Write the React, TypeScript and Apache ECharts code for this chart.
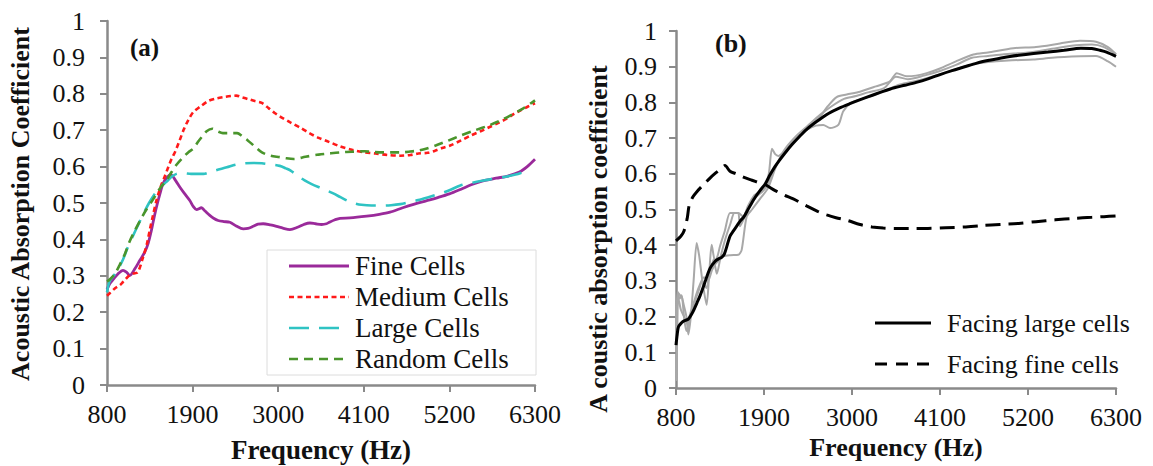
import React, { useEffect, useRef } from "react";
import * as echarts from "echarts";

type Pt = [number, number];

// ---------- Panel (a) ----------
const fineCells: Pt[] = [
  [800, 0.262], [835, 0.278], [880, 0.29], [940, 0.305], [1006, 0.315], [1050, 0.31], [1092, 0.301],
  [1160, 0.32], [1221, 0.342], [1285, 0.365], [1330, 0.39], [1371, 0.425], [1400, 0.455], [1436, 0.489],
  [1480, 0.525], [1520, 0.553], [1570, 0.57], [1620, 0.578], [1680, 0.562], [1735, 0.544], [1800, 0.525],
  [1864, 0.507], [1910, 0.49], [1950, 0.482], [2014, 0.487], [2060, 0.478], [2121, 0.466], [2170, 0.458],
  [2228, 0.452], [2300, 0.449], [2379, 0.447], [2460, 0.437], [2550, 0.429], [2610, 0.43], [2678, 0.436],
  [2740, 0.442], [2807, 0.443], [2900, 0.44], [2979, 0.436], [3060, 0.431], [3150, 0.427], [3257, 0.434],
  [3330, 0.441], [3408, 0.445], [3480, 0.443], [3558, 0.441], [3620, 0.443], [3665, 0.448], [3730, 0.454],
  [3794, 0.458], [3922, 0.459], [4137, 0.464], [4300, 0.469], [4437, 0.475], [4600, 0.487], [4750, 0.497],
  [4900, 0.506], [5050, 0.515], [5200, 0.525], [5350, 0.538], [5480, 0.55], [5620, 0.56], [5800, 0.568],
  [5950, 0.574], [6100, 0.585], [6200, 0.6], [6300, 0.62],
];

const mediumCells: Pt[] = [
  [800, 0.245], [835, 0.252], [900, 0.265], [969, 0.275], [1006, 0.283], [1082, 0.3], [1135, 0.306],
  [1196, 0.31], [1263, 0.351], [1310, 0.385], [1349, 0.425], [1390, 0.465], [1436, 0.507], [1490, 0.545],
  [1542, 0.573], [1590, 0.6], [1628, 0.62], [1680, 0.643], [1730, 0.67], [1789, 0.703], [1850, 0.73],
  [1910, 0.75], [2000, 0.765], [2100, 0.78], [2200, 0.787], [2300, 0.791], [2400, 0.794], [2460, 0.795],
  [2540, 0.79], [2620, 0.785], [2700, 0.78], [2790, 0.775], [2880, 0.76], [2950, 0.748], [3020, 0.738],
  [3150, 0.722], [3290, 0.706], [3400, 0.692], [3520, 0.679], [3650, 0.668], [3790, 0.656], [3950, 0.646],
  [4110, 0.639], [4250, 0.636], [4400, 0.632], [4570, 0.63], [4700, 0.632], [4800, 0.636], [4920, 0.638],
  [5020, 0.644], [5120, 0.652], [5210, 0.658], [5350, 0.672], [5480, 0.686], [5600, 0.697], [5710, 0.708],
  [5830, 0.72], [5930, 0.731], [6030, 0.745], [6120, 0.755], [6210, 0.765], [6300, 0.774],
];

const largeCells: Pt[] = [
  [800, 0.255], [835, 0.285], [920, 0.31], [1006, 0.345], [1070, 0.38], [1135, 0.41], [1200, 0.44],
  [1263, 0.468], [1340, 0.5], [1413, 0.525], [1490, 0.545], [1564, 0.558], [1630, 0.572], [1693, 0.58],
  [1778, 0.582], [1880, 0.58], [1970, 0.58], [2040, 0.58], [2110, 0.584], [2200, 0.59], [2340, 0.598],
  [2450, 0.605], [2560, 0.609], [2680, 0.61], [2790, 0.609], [2900, 0.606], [3020, 0.602], [3100, 0.595],
  [3160, 0.589], [3250, 0.575], [3340, 0.562], [3430, 0.552], [3560, 0.54], [3700, 0.527], [3800, 0.516],
  [3890, 0.506], [3980, 0.499], [4070, 0.495], [4200, 0.493], [4340, 0.493], [4450, 0.494], [4570, 0.497],
  [4680, 0.502], [4800, 0.508], [4930, 0.516], [5070, 0.525], [5200, 0.535], [5340, 0.548], [5480, 0.555],
  [5620, 0.561], [5750, 0.566], [5890, 0.571], [6050, 0.578], [6210, 0.59],
];

const randomCells: Pt[] = [
  [800, 0.285], [835, 0.29], [900, 0.305], [963, 0.33], [1030, 0.36], [1092, 0.395], [1160, 0.425],
  [1221, 0.45], [1300, 0.48], [1392, 0.51], [1480, 0.54], [1564, 0.562], [1630, 0.585], [1693, 0.605],
  [1789, 0.628], [1850, 0.64], [1912, 0.65], [1970, 0.668], [2017, 0.681], [2080, 0.697], [2153, 0.704],
  [2220, 0.697], [2290, 0.692], [2380, 0.692], [2472, 0.692], [2540, 0.683], [2609, 0.672], [2700, 0.655],
  [2791, 0.639], [2900, 0.63], [3019, 0.626], [3100, 0.623], [3201, 0.621], [3350, 0.627], [3520, 0.633],
  [3650, 0.636], [3793, 0.639], [3950, 0.641], [4112, 0.642], [4230, 0.64], [4340, 0.639], [4450, 0.639],
  [4567, 0.639], [4680, 0.641], [4795, 0.644], [4910, 0.65], [5023, 0.658], [5180, 0.671], [5342, 0.685],
  [5520, 0.699], [5706, 0.713], [5850, 0.726], [5980, 0.74], [6150, 0.76], [6300, 0.782],
];

// ---------- Panel (b) ----------
const facingLarge: Pt[] = [
  [800, 0.12], [815, 0.15], [832, 0.172], [870, 0.183], [901, 0.188], [954, 0.193], [1015, 0.215],
  [1061, 0.238], [1100, 0.258], [1152, 0.29], [1225, 0.335], [1290, 0.355], [1335, 0.362], [1370, 0.366],
  [1404, 0.375], [1475, 0.425], [1518, 0.44], [1600, 0.467], [1650, 0.48], [1700, 0.5], [1725, 0.51],
  [1792, 0.535], [1850, 0.553], [1916, 0.572], [1970, 0.595], [2037, 0.62], [2090, 0.637], [2158, 0.657],
  [2250, 0.682], [2341, 0.704], [2430, 0.724], [2524, 0.741], [2620, 0.756], [2706, 0.769], [2840, 0.784],
  [2981, 0.797], [3120, 0.809], [3255, 0.82], [3390, 0.831], [3529, 0.841], [3660, 0.848], [3804, 0.856],
  [3950, 0.866], [4101, 0.878], [4250, 0.889], [4398, 0.899], [4560, 0.91], [4718, 0.918], [4900, 0.926],
  [5084, 0.932], [5270, 0.937], [5450, 0.941], [5650, 0.946], [5861, 0.952], [5998, 0.951], [6100, 0.946],
  [6181, 0.941], [6300, 0.929],
];

const facingFine: Pt[] = [
  [800, 0.412], [860, 0.425], [900, 0.44], [940, 0.475], [966, 0.513], [1010, 0.535], [1061, 0.55],
  [1141, 0.569], [1225, 0.588], [1300, 0.603], [1360, 0.614], [1412, 0.623], [1475, 0.607], [1550, 0.6],
  [1650, 0.59], [1750, 0.582], [1850, 0.574], [1912, 0.57], [2040, 0.553], [2158, 0.54], [2266, 0.53],
  [2432, 0.51], [2570, 0.495], [2684, 0.485], [2800, 0.477], [2934, 0.47], [3100, 0.458], [3250, 0.451],
  [3391, 0.448], [3560, 0.447], [3712, 0.447], [3950, 0.447], [4169, 0.449], [4400, 0.451], [4627, 0.455],
  [4850, 0.458], [5084, 0.461], [5300, 0.466], [5541, 0.471], [5770, 0.475], [5998, 0.478], [6150, 0.48],
  [6300, 0.482],
];

const sampleA: Pt[] = [
  [800, 0.02], [815, 0.15], [829, 0.266], [850, 0.26], [871, 0.256], [900, 0.23], [930, 0.2], [954, 0.15],
  [985, 0.2], [1020, 0.3], [1058, 0.406], [1090, 0.37], [1130, 0.3], [1183, 0.233], [1215, 0.32],
  [1246, 0.401], [1288, 0.355], [1320, 0.37], [1350, 0.397], [1410, 0.44], [1475, 0.49], [1540, 0.49],
  [1579, 0.49], [1600, 0.453], [1640, 0.47], [1700, 0.5], [1800, 0.535], [1900, 0.555], [1960, 0.6],
  [2000, 0.67], [2040, 0.655], [2080, 0.65], [2150, 0.662], [2300, 0.695], [2450, 0.728], [2600, 0.76],
  [2700, 0.79], [2808, 0.815], [2933, 0.822], [3100, 0.83], [3300, 0.845], [3475, 0.859], [3559, 0.882],
  [3684, 0.873], [3800, 0.875], [3934, 0.882], [4100, 0.895], [4300, 0.915], [4517, 0.934], [4700, 0.94],
  [5017, 0.952], [5300, 0.955], [5600, 0.965], [5850, 0.973], [6050, 0.97], [6200, 0.955], [6300, 0.935],
];

const sampleB: Pt[] = [
  [800, 0.17], [820, 0.27], [845, 0.25], [870, 0.26], [900, 0.2], [930, 0.16], [960, 0.18], [1000, 0.22],
  [1050, 0.26], [1100, 0.29], [1150, 0.31], [1200, 0.3], [1250, 0.33], [1300, 0.35], [1350, 0.36],
  [1391, 0.369], [1480, 0.372], [1579, 0.373], [1621, 0.387], [1683, 0.48], [1750, 0.5], [1850, 0.53],
  [1950, 0.56], [2050, 0.62], [2150, 0.66], [2300, 0.7], [2450, 0.725], [2550, 0.735], [2641, 0.737],
  [2725, 0.728], [2829, 0.737], [2891, 0.775], [3000, 0.8], [3200, 0.815], [3400, 0.832], [3600, 0.85],
  [3800, 0.86], [4000, 0.872], [4200, 0.886], [4400, 0.9], [4600, 0.91], [4808, 0.915], [5000, 0.918],
  [5267, 0.92], [5500, 0.925], [5850, 0.929], [6050, 0.93], [6200, 0.915], [6300, 0.9],
];

const sampleC: Pt[] = [
  [800, 0.2], [830, 0.25], [860, 0.22], [900, 0.2], [940, 0.18], [980, 0.21], [1030, 0.24], [1080, 0.27],
  [1130, 0.3], [1180, 0.28], [1220, 0.32], [1270, 0.36], [1310, 0.32], [1360, 0.37], [1420, 0.42],
  [1480, 0.46], [1530, 0.49], [1580, 0.49], [1640, 0.48], [1700, 0.51], [1780, 0.54], [1850, 0.55],
  [1920, 0.56], [2000, 0.6], [2150, 0.665], [2300, 0.705], [2450, 0.735], [2600, 0.765], [2750, 0.79],
  [2900, 0.81], [3050, 0.818], [3200, 0.828], [3400, 0.84], [3550, 0.872], [3700, 0.865], [3900, 0.875],
  [4100, 0.888], [4300, 0.905], [4500, 0.925], [4700, 0.93], [4900, 0.935], [5200, 0.94], [5500, 0.95],
  [5800, 0.96], [6000, 0.962], [6150, 0.955], [6300, 0.935],
];

const legendA = ["Fine Cells", "Medium Cells", "Large Cells", "Random Cells"];
const legendB = ["Facing large cells", "Facing fine cells"];

const FONT = "Liberation Serif, Times New Roman, serif";
const AXIS_GRAY = "#8a8a8a";
const PURPLE = "#9a2a9a";
const RED = "#ff1a1a";
const CYAN = "#2fc3c3";
const GREEN = "#4a952c";
const GRAY = "#a8a8a8";

function xAxisCfg(gridIndex: number) {
  return {
    gridIndex,
    type: "value",
    min: 800,
    max: 6300,
    interval: 1100,
    axisLine: { lineStyle: { color: AXIS_GRAY, width: 2.5 } },
    axisTick: { length: 7, lineStyle: { color: AXIS_GRAY, width: 2 } },
    axisLabel: { color: "#111", fontFamily: FONT, fontSize: 26, margin: 16, formatter: (v: number) => String(Math.round(v)) },
    splitLine: { show: false },
  };
}

function yAxisCfg(gridIndex: number, margin: number) {
  return {
    gridIndex,
    type: "value",
    min: 0,
    max: 1,
    interval: 0.1,
    axisLine: { show: true, lineStyle: { color: AXIS_GRAY, width: 2.5 } },
    axisTick: { show: true, length: 7, lineStyle: { color: AXIS_GRAY, width: 2 } },
    axisLabel: {
      color: "#111",
      fontFamily: FONT,
      fontSize: 26,
      margin,
      formatter: (v: number) => (Math.abs(v) < 1e-9 ? "0" : Math.abs(v - 1) < 1e-9 ? "1" : v.toFixed(1)),
    },
    splitLine: { show: false },
  };
}

function line(name: string, data: Pt[], gi: number, color: string, width: number, type: any, smooth: number, z = 2) {
  return {
    name,
    type: "line",
    xAxisIndex: gi,
    yAxisIndex: gi,
    data,
    symbol: "none",
    smooth,
    z,
    lineStyle: { color, width, type },
  };
}

function legendRow(x1: number, x2: number, textX: number, y: number, color: string, width: number, dash: number[] | null, label: string, fontSize: number) {
  return [
    {
      type: "line",
      shape: { x1, y1: y, x2, y2: y },
      style: { stroke: color, lineWidth: width, lineDash: dash || undefined },
      z: 10,
    },
    {
      type: "text",
      x: textX,
      y,
      style: { text: label, fontFamily: FONT, fontSize, fill: "#111", align: "left", verticalAlign: "middle" },
      z: 10,
    },
  ];
}

export default function App() {
  const ref = useRef<HTMLDivElement>(null);
  useEffect(() => {
    document.body.style.margin = "0";
    const chart = echarts.init(ref.current!, null, { renderer: "svg" });
    const option: any = {
      animation: false,
      backgroundColor: "#fff",
      textStyle: { fontFamily: FONT },
      grid: [
        { left: 107, top: 21, width: 428, height: 364 },
        { left: 676, top: 31, width: 440, height: 357 },
      ],
      xAxis: [xAxisCfg(0), xAxisCfg(1)],
      yAxis: [yAxisCfg(0, 22), yAxisCfg(1, 19)],
      series: [
        line(legendA[0], fineCells, 0, PURPLE, 2.8, "solid", 0.3),
        line(legendA[1], mediumCells, 0, RED, 2.6, [5, 3.5], 0.3),
        line(legendA[2], largeCells, 0, CYAN, 2.6, [20, 10], 0.3),
        line(legendA[3], randomCells, 0, GREEN, 2.6, [9, 6], 0.3),
        line("Sample 1", sampleA, 1, GRAY, 2, "solid", 0.25, 1),
        line("Sample 2", sampleB, 1, GRAY, 2, "solid", 0.25, 1),
        line("Sample 3", sampleC, 1, GRAY, 2, "solid", 0.25, 1),
        line(legendB[1], facingFine, 1, "#000", 3, [15, 8], 0.3, 3),
        line(legendB[0], facingLarge, 1, "#000", 3, "solid", 0.3, 3),
      ],
      graphic: [
        {
          type: "rect",
          shape: { x: 267, y: 250, width: 269, height: 125 },
          style: { fill: "#fff", stroke: "#dcdcdc", lineWidth: 1 },
          z: 9,
        },
        ...legendRow(289, 349, 355, 266, PURPLE, 2.8, null, legendA[0], 27),
        ...legendRow(289, 349, 355, 297, RED, 2.6, [5, 3.5], legendA[1], 27),
        ...legendRow(289, 349, 355, 328, CYAN, 2.6, [20, 10], legendA[2], 27),
        ...legendRow(289, 349, 355, 359, GREEN, 2.6, [9, 6], legendA[3], 27),
        ...legendRow(875, 931, 947, 323, "#000", 3, null, legendB[0], 26),
        ...legendRow(875, 931, 947, 364, "#000", 3, [12, 9], legendB[1], 26),
        {
          type: "text", x: 130, y: 47,
          style: { text: "(a)", fontFamily: FONT, fontSize: 25, fontWeight: "bold", fill: "#111", align: "left", verticalAlign: "middle" },
        },
        {
          type: "text", x: 715, y: 43,
          style: { text: "(b)", fontFamily: FONT, fontSize: 26, fontWeight: "bold", fill: "#111", align: "left", verticalAlign: "middle" },
        },
        {
          type: "text", x: 20, y: 204, rotation: Math.PI / 2,
          style: { text: "Acoustic Absorption Coefficient", fontFamily: FONT, fontSize: 26, fontWeight: "bold", fill: "#111", align: "center", verticalAlign: "middle" },
        },
        {
          type: "text", x: 598, y: 239, rotation: Math.PI / 2,
          style: { text: "A coustic absorption coefficient", fontFamily: FONT, fontSize: 26, fontWeight: "bold", fill: "#111", align: "center", verticalAlign: "middle" },
        },
        {
          type: "text", x: 321, y: 450,
          style: { text: "Frequency (Hz)", fontFamily: FONT, fontSize: 27, fontWeight: "bold", fill: "#111", align: "center", verticalAlign: "middle" },
        },
        {
          type: "text", x: 896, y: 447,
          style: { text: "Frequency (Hz)", fontFamily: FONT, fontSize: 26, fontWeight: "bold", fill: "#111", align: "center", verticalAlign: "middle" },
        },
      ],
    };
    chart.setOption(option);
    return () => chart.dispose();
  }, []);
  return <div ref={ref} style={{ width: 1153, height: 466 }} />;
}
